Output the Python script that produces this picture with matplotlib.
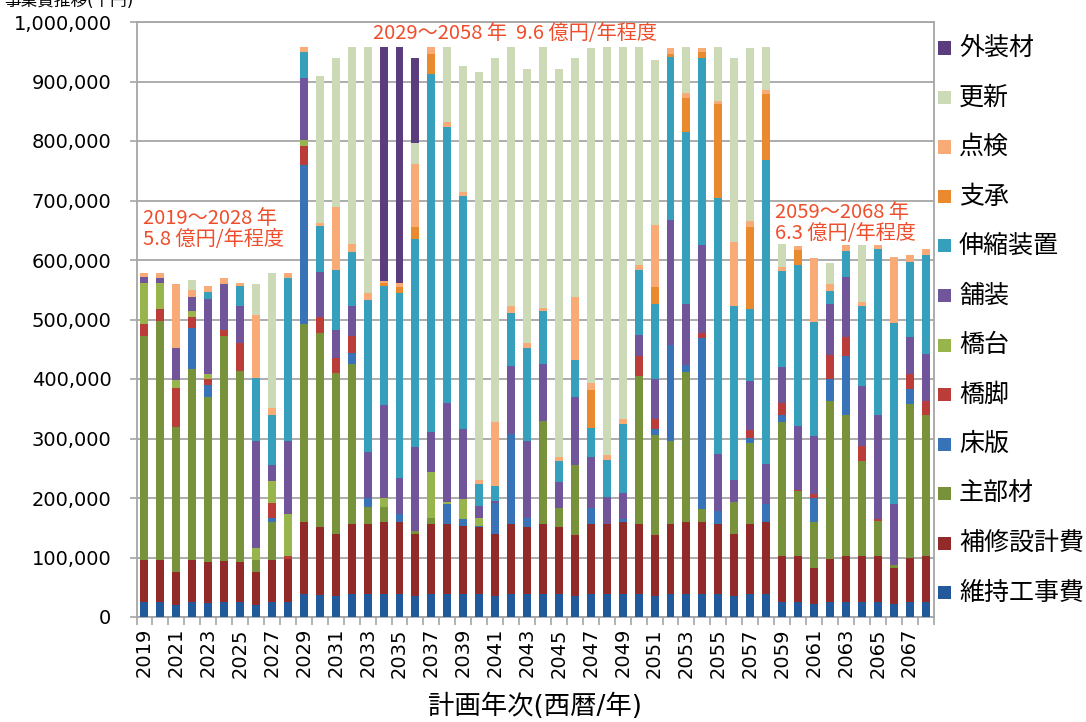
import matplotlib
matplotlib.use("Agg")
import matplotlib.pyplot as plt
from matplotlib.patches import Rectangle
import numpy as np

plt.rcParams["font.family"] = ["DejaVu Sans", "Noto Sans CJK JP"]

W, H = 1086, 722

years = list(range(2019, 2069))

# Annual cost by item (千円), stacked from bottom to top
maintenance = [25000, 25000, 20000, 25000, 24000, 25000, 25000, 20000, 25500, 25500,
               39400, 36700, 35000, 39400, 39400, 39400, 39400, 35000, 39400, 39400,
               39400, 39400, 35000, 39400, 39400, 39400, 39400, 35000, 39400, 39400,
               39400, 39400, 35000, 39400, 39400, 39400, 39400, 35000, 39400, 39400,
               25500, 25500, 21700, 25500, 25500, 25500, 25500, 21700, 25500, 25500]
repair_design = [70000, 70000, 55500, 70000, 67700, 69000, 67000, 55500, 69500, 71200,
                 119600, 113800, 104400, 117600, 117600, 119600, 119600, 104400, 117600, 117600,
                 113600, 111100, 104400, 117600, 112300, 117600, 112300, 103000, 117600, 117600,
                 119600, 117600, 103000, 117600, 119600, 119600, 117600, 104000, 117600, 119600,
                 77500, 77500, 61100, 71200, 77500, 77500, 77500, 61100, 73900, 76200]
main_member = [377000, 403000, 244000, 321000, 278000, 379000, 322000, 20000, 65500, 0,
               334000, 327500, 270100, 268600, 28500, 26500, 0, 5600, 10000, 0,
               0, 0, 0, 0, 0, 173000, 31100, 118000, 0, 0,
               0, 248700, 168500, 138000, 253000, 22000, 0, 55000, 136000, 0,
               224000, 108000, 76900, 267100, 235700, 159700, 58700, 5200, 258600, 237000]
deck_slab = [0, 0, 0, 69000, 20000, 0, 0, 0, 6500, 0,
             267000, 0, 0, 18400, 15000, 0, 14000, 0, 0, 33000,
             12500, 2500, 52600, 150800, 15300, 0, 0, 0, 25800, 0,
             5000, 0, 9000, 162000, 11700, 287800, 21000, 0, 8000, 31500,
             11700, 1000, 39900, 36200, 99800, 0, 0, 0, 25800, 0]
pier = [20000, 19000, 65000, 19000, 11000, 10000, 46000, 0, 25000, 6300,
        32000, 26000, 25500, 28000, 0, 0, 0, 0, 0, 0,
        0, 0, 0, 0, 0, 0, 0, 0, 0, 0,
        0, 32800, 18000, 0, 0, 7700, 0, 0, 13000, 0,
        20300, 2000, 7100, 41000, 31500, 24300, 2300, 0, 23800, 23800]
abutment = [70000, 44000, 13000, 10000, 8000, 0, 0, 21000, 36600, 69600,
            10000, 0, 0, 0, 0, 13900, 0, 0, 76000, 3000,
            32500, 13000, 0, 0, 0, 0, 0, 0, 0, 0,
            0, 0, 0, 0, 0, 0, 0, 0, 0, 0,
            0, 0, 0, 0, 0, 0, 0, 0, 0, 0]
pavement = [10000, 9000, 54000, 24000, 125000, 77000, 62000, 180000, 27400, 122400,
            104600, 75500, 48000, 51500, 76500, 156600, 60700, 140000, 68000, 166000,
            117500, 21000, 3000, 114000, 129000, 95600, 44200, 113000, 86200, 44500,
            44000, 35500, 66500, 210000, 103000, 148100, 96000, 36500, 82600, 67100,
            61500, 106700, 97900, 85700, 101800, 101300, 174700, 102600, 63100, 79200]
expansion_joint = [0, 0, 0, 0, 13000, 0, 34000, 105000, 84000, 275500,
                   43400, 77500, 100400, 90100, 256000, 199700, 311000, 350000, 602000, 464000,
                   391500, 37000, 26000, 88800, 156700, 88200, 35700, 62400, 48500, 62500,
                   116000, 109400, 126700, 275000, 288300, 315400, 429800, 293000, 120400, 510400,
                   161000, 271700, 191900, 21300, 43800, 133700, 280100, 303900, 125300, 166800]
bearing = [0, 0, 0, 0, 0, 0, 0, 0, 0, 0,
           0, 0, 0, 0, 0, 5300, 9700, 20500, 33500, 0,
           0, 0, 0, 0, 0, 0, 0, 0, 64300, 0,
           0, 0, 27100, 4600, 58000, 10400, 159000, 0, 138500, 111000,
           0, 24600, 0, 0, 0, 0, 0, 0, 0, 0]
inspection = [6000, 8000, 108000, 11000, 9000, 9000, 6000, 106000, 11600, 7500,
              8000, 6000, 105600, 12900, 11700, 4000, 7100, 106200, 11500, 9600,
              6500, 6500, 106000, 12900, 8300, 6200, 6300, 106600, 11000, 8000,
              9500, 7600, 104900, 10400, 8000, 6600, 5200, 107500, 9500, 7000,
              6500, 6300, 107500, 12000, 9000, 8000, 5800, 110500, 13000, 9500]
renewal = [0, 0, 0, 18000, 0, 0, 0, 52000, 226400, 0,
           0, 247000, 249800, 331500, 413300, 0, 0, 35300, 0, 125400,
           212500, 685800, 611800, 434500, 459800, 438000, 651800, 400800, 564200, 686000,
           624500, 367000, 276900, 0, 77000, 0, 90000, 307800, 292000, 72000,
           38500, 0, 0, 34300, 0, 94600, 0, 0, 0, 0]
exterior = [0, 0, 0, 0, 0, 0, 0, 0, 0, 0,
            0, 0, 0, 0, 0, 393000, 396500, 141800, 0, 0,
            0, 0, 0, 0, 0, 0, 0, 0, 0, 0,
            0, 0, 0, 0, 0, 0, 0, 0, 0, 0,
            0, 0, 0, 0, 0, 0, 0, 0, 0, 0]

series = [
    ("維持工事費", maintenance, "#22599A"),
    ("補修設計費", repair_design, "#922A2A"),
    ("主部材", main_member, "#77923A"),
    ("床版", deck_slab, "#3873B8"),
    ("橋脚", pier, "#BA3D39"),
    ("橋台", abutment, "#97B54C"),
    ("舗装", pavement, "#70559B"),
    ("伸縮装置", expansion_joint, "#369FBB"),
    ("支承", bearing, "#E98A2E"),
    ("点検", inspection, "#F9AB77"),
    ("更新", renewal, "#CCDAB8"),
    ("外装材", exterior, "#5B3D7E"),
]

y_ticks = list(range(0, 1000001, 100000))
x_label_years = years[::2]

fig = plt.figure(figsize=(W / 100, H / 100), dpi=100)
ax_left, ax_right, ax_top, ax_bottom = 136.5, 933.5, 22, 617
ax = fig.add_axes([ax_left / W, 1 - ax_bottom / H,
                   (ax_right - ax_left) / W, (ax_bottom - ax_top) / H])

x = np.arange(len(years))
base = np.zeros(len(years))
for name, vals, col in series:
    v = np.asarray(vals, dtype=float)
    ax.bar(x, v, width=0.5, bottom=base, color=col, linewidth=0, zorder=3)
    base += v

grid_col = "#A6A6A6"
ax.set_xlim(-0.5, len(years) - 0.5)
ax.set_ylim(0, 1000000)
ax.set_yticks(y_ticks)
ax.set_yticklabels([f"{t:,}" for t in y_ticks], fontsize=14)
ax.yaxis.grid(True, color=grid_col, linewidth=1.3, zorder=0)
ax.set_axisbelow(True)
for s in ax.spines.values():
    s.set_color(grid_col)
    s.set_linewidth(1.3)
ax.tick_params(axis="y", length=5, width=1.2, color=grid_col, pad=13)

ax.set_xticks([years.index(yv) for yv in x_label_years])
ax.set_xticklabels([str(yv) for yv in x_label_years], rotation=90, fontsize=14,
                   va="top", ha="center")
ax.tick_params(axis="x", which="major", length=0, pad=8)
ax.set_xticks(np.arange(-0.5, len(years), 1), minor=True)
ax.tick_params(axis="x", which="minor", length=6, width=1.2, color=grid_col)

fig.text(535 / W, 1 - 707 / H, "計画年次(西暦/年)", fontsize=19,
         ha="center", va="center")
fig.text(4 / W, 1 - 6 / H, "事業費推移(千円)", fontsize=12,
         ha="left", va="baseline")

note_col = "#EE4E2C"
note_font = ["Noto Sans CJK JP", "DejaVu Sans"]
fig.text(143 / W, 1 - 218 / H, "2019～2028 年", fontsize=14.5, color=note_col,
         ha="left", va="center", family=note_font)
fig.text(143 / W, 1 - 240 / H, "5.8 億円/年程度", fontsize=14.5, color=note_col,
         ha="left", va="center", family=note_font)
fig.text(373 / W, 1 - 34 / H, "2029～2058 年  9.6 億円/年程度", fontsize=14.5,
         color=note_col, ha="left", va="center", family=note_font)
fig.text(775 / W, 1 - 213 / H, "2059～2068 年", fontsize=14.5, color=note_col,
         ha="left", va="center", family=note_font)
fig.text(775 / W, 1 - 234 / H, "6.3 億円/年程度", fontsize=14.5, color=note_col,
         ha="left", va="center", family=note_font)

# Legend: top entry is the top of the stack
for i, (name, vals, col) in enumerate(reversed(series)):
    cy = 48 + 49.5 * i
    fig.add_artist(Rectangle((938 / W, 1 - (cy + 6.5) / H), 13 / W, 13 / H,
                             transform=fig.transFigure, facecolor=col,
                             edgecolor="none"))
    fig.text(959 / W, 1 - cy / H, name, fontsize=18, ha="left", va="center",
             family=["Noto Sans CJK JP", "DejaVu Sans"])

fig.savefig("out.png", dpi=100)
